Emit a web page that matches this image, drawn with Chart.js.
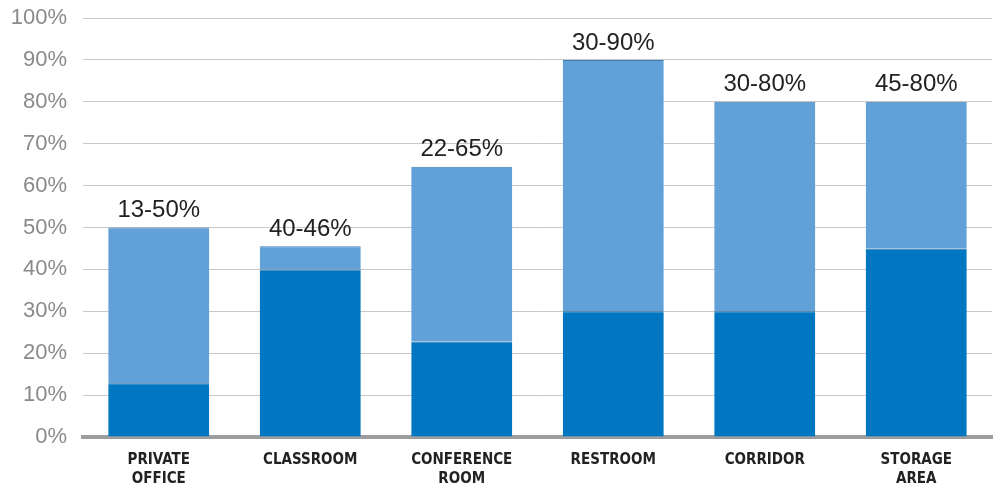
<!DOCTYPE html>
<html>
<head>
<meta charset="utf-8">
<script src="https://cdn.jsdelivr.net/npm/chart.js@4.4.0/dist/chart.umd.min.js"></script>
<style>
  html, body { margin: 0; padding: 0; background: #fff; }
  #wrap { width: 997px; height: 489px; }
</style>
</head>
<body>
<div id="wrap"><canvas id="rangeChart"></canvas></div>
<script>
// Occupancy-sensor savings ranges per space type
const categories = [["PRIVATE", "OFFICE"], "CLASSROOM", ["CONFERENCE", "ROOM"], "RESTROOM", "CORRIDOR", ["STORAGE", "AREA"]];
const lowValues = [12.8, 40, 22.8, 30, 30, 45];
const highValues = [50, 45.5, 64.5, 90, 80, 80];
const rangeLabels = ["13-50%", "40-46%", "22-65%", "30-90%", "30-80%", "45-80%"];
const yTicks = [0, 10, 20, 30, 40, 50, 60, 70, 80, 90, 100];

// top segment is the difference between high and low
const spanValues = highValues.map((h, i) => h - lowValues[i]);

// draws the "xx-yy%" labels above each bar
const rangeLabelPlugin = {
  id: 'rangeLabels',
  afterDatasetsDraw(chart) {
    const ctx = chart.ctx;
    const meta = chart.getDatasetMeta(1);
    ctx.save();
    ctx.font = '24px "Liberation Sans", Arial, sans-serif';
    ctx.fillStyle = '#222';
    ctx.textAlign = 'center';
    ctx.textBaseline = 'bottom';
    meta.data.forEach((bar, i) => {
      ctx.fillText(rangeLabels[i], bar.x, bar.y - 5);
    });
    ctx.restore();
  }
};

new Chart(document.getElementById("rangeChart").getContext("2d"), {
  type: 'bar',
  data: {
    labels: categories,
    datasets: [
      {
        label: 'Low',
        data: lowValues,
        backgroundColor: '#0077c0',
        borderColor: '#0a5f96',
        borderWidth: { top: 1, left: 0, right: 0, bottom: 0 },
        borderSkipped: false
      },
      {
        label: 'High',
        data: spanValues,
        backgroundColor: '#62a1d7',
        borderColor: '#3f7fb5',
        borderWidth: { top: 1, left: 0, right: 0, bottom: 0 },
        borderSkipped: false
      }
    ]
  },
  options: {
    responsive: true,
    maintainAspectRatio: false,
    animation: false,
    datasets: {
      bar: { categoryPercentage: 0.667, barPercentage: 1 }
    },
    layout: { padding: { top: 18, right: 5, left: 0, bottom: 0 } },
    plugins: {
      legend: { display: false },
      tooltip: { enabled: false }
    },
    scales: {
      x: {
        stacked: true,
        afterFit(scale) { scale.height = 52; },
        grid: { display: false, drawTicks: false },
        border: { display: true, color: '#9d9d9f', width: 4 },
        ticks: {
          color: '#222',
          padding: 14,
          font: { family: '"DejaVu Sans Condensed", "Liberation Sans", Arial, sans-serif', size: 15, weight: 'bold', lineHeight: 1.25 }
        }
      },
      y: {
        stacked: true,
        min: 0,
        max: 100,
        afterFit(scale) { scale.width = 83; scale.paddingTop = 0; },
        afterBuildTicks(scale) { scale.ticks = yTicks.map(v => ({ value: v })); },
        grid: { color: '#c8c8c8', lineWidth: 1, drawTicks: false },
        border: { display: false },
        ticks: {
          color: '#8a8a8a',
          padding: 16,
          font: { family: '"Liberation Sans", Arial, sans-serif', size: 22 },
          callback: v => v + '%'
        }
      }
    }
  },
  plugins: [rangeLabelPlugin]
});
</script>
</body>
</html>
